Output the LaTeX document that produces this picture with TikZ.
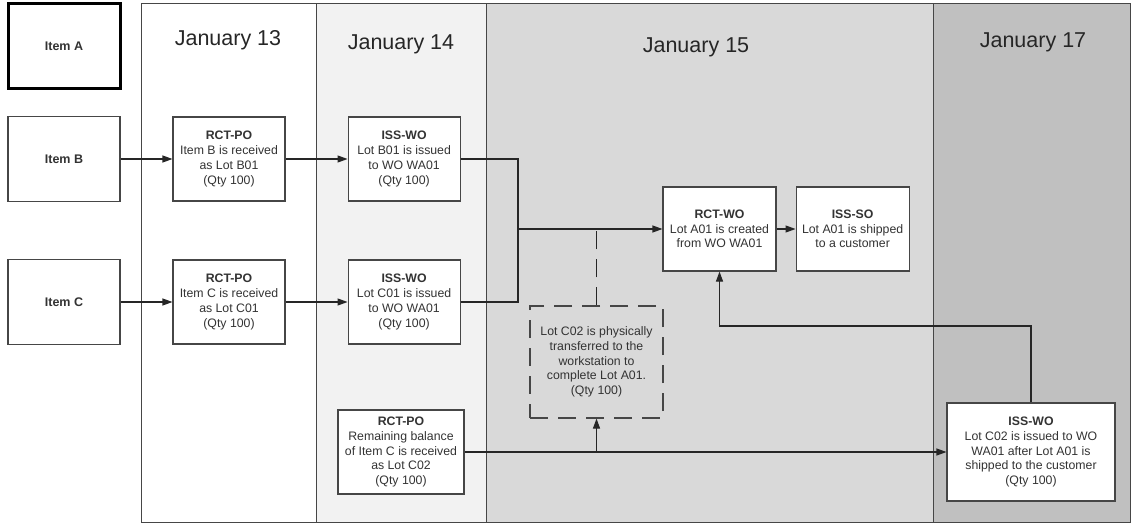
\documentclass[tikz,border=0pt]{standalone}
\usepackage{fontspec}
\setmainfont{Liberation Sans}
\usetikzlibrary{positioning, arrows.meta, calc}
\definecolor{Lineacolor}{RGB}{70,70,70}
\definecolor{Dia14}{RGB}{242,242,242}
\definecolor{Dia15}{RGB}{217,217,217}
\definecolor{Dia17}{RGB}{192,192,192}

\begin{document}
\begin{tikzpicture}[x=1pt, y=-1pt,
    box/.style={
        rectangle, draw=Lineacolor, fill=white, line width=1.1pt,
        minimum width=112pt, minimum height=84pt, inner sep=2pt,
        align=center, text=black!80,
        font=\fontsize{12.3}{14.7}\selectfont},
    item/.style={box, minimum height=85pt,
        font=\fontsize{12.5}{14.7}\selectfont\bfseries},
    nota/.style={box, fill=none, minimum width=133pt, minimum height=112pt,
        dash pattern=on 18pt off 10pt},
    dia/.style={font=\fontsize{21.5}{25}\selectfont, text=black!85},
    arr/.style={-{Triangle[length=10pt, width=7pt]}, line width=1.1pt, color=black!85},
    lin/.style={line width=1.1pt, color=black!85}]
  \useasboundingbox (0,0) rectangle (1131,524);
  % Columnas de fechas
  \fill[Dia14] (316,4) rectangle (486,522);
  \fill[Dia15] (486,4) rectangle (933,522);
  \fill[Dia17] (933,4) rectangle (1130,522);
  \draw[Lineacolor, line width=1pt] (141,4) rectangle (1130,522);
  \foreach \x in {316,486,933}
    \draw[Lineacolor, line width=1pt] (\x,4) -- (\x,522);
  \node[dia] (d13) at (228,40) {January 13};
  \node[dia] (d14) at (401,44) {January 14};
  \node[dia] (d15) at (696,47) {January 15};
  \node[dia] (d17) at (1033,42) {January 17};
  % Articulos
  \node[item, draw=black, line width=3pt] (itemA) at (64,46) {Item A};
  \node[item] (itemB) at (64,159) {Item B};
  \node[item] (itemC) at (64,302) {Item C};
  % Transacciones
  \node[box] (rctB) at (229,159)
    {\textbf{RCT-PO}\\Item B is received\\as Lot B01\\(Qty 100)};
  \node[box, right=62pt of rctB] (issB)
    {\textbf{ISS-WO}\\Lot B01 is issued\\to WO WA01\\(Qty 100)};
  \node[box] (rctC) at (229,302)
    {\textbf{RCT-PO}\\Item C is received\\as Lot C01\\(Qty 100)};
  \node[box, right=62pt of rctC] (issC)
    {\textbf{ISS-WO}\\Lot C01 is issued\\to WO WA01\\(Qty 100)};
  \node[box, minimum width=113pt] (rctwo) at (719.5,229)
    {\textbf{RCT-WO}\\Lot A01 is created\\from WO WA01};
  \node[box, minimum width=113pt, right=19pt of rctwo] (issso)
    {\textbf{ISS-SO}\\Lot A01 is shipped\\to a customer};
  \node[nota] (nota) at (596.5,362)
    {Lot C02 is physically\\transferred to the\\workstation to\\complete Lot A01.\\(Qty 100)};
  \node[box, minimum width=126pt] (rctC02) at (401,452)
    {\textbf{RCT-PO}\\Remaining balance\\of Item C is received\\as Lot C02\\(Qty 100)};
  \node[box, minimum width=168pt, minimum height=98pt] (issC02) at (1031,452)
    {\textbf{ISS-WO}\\Lot C02 is issued to WO\\WA01 after Lot A01 is\\shipped to the customer\\(Qty 100)};
  % Flechas
  \draw[arr] (itemB) -- (rctB);
  \draw[arr] (rctB)  -- (issB);
  \draw[arr] (itemC) -- (rctC);
  \draw[arr] (rctC)  -- (issC);
  \coordinate (junta) at (518,229);
  \draw[lin] (issB.east) -| (junta);
  \draw[lin] (issC.east) -| (junta);
  \draw[arr] (junta) -- (rctwo.west);
  \draw[arr] (rctwo) -- (issso);
  \draw[lin, dash pattern=on 18pt off 10pt] (nota.north) -- (nota.north |- junta);
  \draw[arr] (rctC02) -- (issC02);
  \draw[arr] (nota.south |- rctC02.east) -- (nota.south);
  \coordinate (giro) at (719.5,326);
  \draw[arr] (issC02.north) |- (giro) -- (rctwo.south);
\end{tikzpicture}
\end{document}
